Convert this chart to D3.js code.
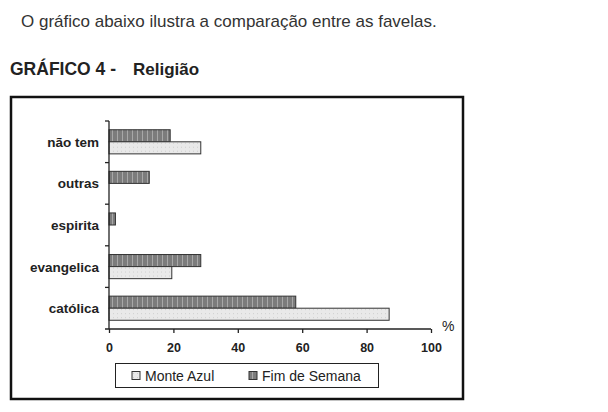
<!DOCTYPE html>
<html>
<head>
<meta charset="utf-8">
<script src="https://cdn.jsdelivr.net/npm/d3@7"></script>
<style>
body { margin: 0; background: #fff; }
text { font-family: "Liberation Sans", Arial, sans-serif; }
</style>
</head>
<body>
<div id="chart"></div>
<script>
// categories top to bottom
var categories = ["não tem", "outras", "espirita", "evangelica", "católica"];
var seriesNames = ["Monte Azul", "Fim de Semana"];
var monteAzul = [28.5, 0, 0, 19.5, 87];
var fimDeSemana = [19, 12.5, 2, 28.5, 58];
var ticks = [0, 20, 40, 60, 80, 100];

var w = 608, h = 412;
var svg = d3.select("#chart").append("svg").attr("width", w).attr("height", h);

// hatching patterns to mimic the scanned fills
var defs = svg.append("defs");
var pLight = defs.append("pattern").attr("id", "pLight").attr("patternUnits", "userSpaceOnUse")
	.attr("width", 4).attr("height", 4);
pLight.append("rect").attr("width", 4).attr("height", 4).attr("fill", "#e9e9e9");
pLight.append("rect").attr("x", 1).attr("y", 1).attr("width", 1).attr("height", 1).attr("fill", "#cfcfcf");
var pDark = defs.append("pattern").attr("id", "pDark").attr("patternUnits", "userSpaceOnUse")
	.attr("width", 5).attr("height", 4);
pDark.append("rect").attr("width", 5).attr("height", 4).attr("fill", "#7c7c7c");
pDark.append("rect").attr("x", 2).attr("y", 0).attr("width", 1).attr("height", 4).attr("fill", "#a8a8a8");
var fills = ["url(#pLight)", "url(#pDark)"];

// heading texts
svg.append("text").attr("x", 21).attr("y", 27).attr("font-size", "17px").attr("fill", "#333")
	.text("O gráfico abaixo ilustra a comparação entre as favelas.");
svg.append("text").attr("x", 10).attr("y", 75).attr("font-size", "17.5px").attr("font-weight", "bold")
	.attr("fill", "#222").text("GRÁFICO 4 -");
svg.append("text").attr("x", 133).attr("y", 75).attr("font-size", "17px").attr("font-weight", "bold")
	.attr("fill", "#222").text("Religião");

// outer frame
svg.append("rect").attr("x", 11).attr("y", 97).attr("width", 452).attr("height", 302)
	.attr("fill", "none").attr("stroke", "#111").attr("stroke-width", 2.5);

var x = d3.scaleLinear().domain([0, 100]).range([109, 431]);
var y = d3.scaleBand().domain(categories).range([121, 329]).paddingInner(0.42).paddingOuter(0.21);
var ySub = d3.scaleBand().domain(["Fim de Semana", "Monte Azul"]).range([0, y.bandwidth()]);

var rows = categories.map(function(c, i) {
	return { cat: c, vals: [
		{ name: "Fim de Semana", value: fimDeSemana[i], fill: fills[1] },
		{ name: "Monte Azul", value: monteAzul[i], fill: fills[0] }
	]};
});

var g = svg.append("g");
g.selectAll(".row").data(rows).enter().append("g")
	.attr("transform", function(d) { return "translate(0," + y(d.cat) + ")"; })
	.selectAll("rect").data(function(d) { return d.vals.filter(function(v) { return v.value > 0; }); })
	.enter().append("rect")
	.attr("x", x(0))
	.attr("y", function(d) { return ySub(d.name); })
	.attr("width", function(d) { return x(d.value) - x(0); })
	.attr("height", ySub.bandwidth())
	.attr("fill", function(d) { return d.fill; })
	.attr("stroke", "#333").attr("stroke-width", 1);

// y axis: line with ticks at category boundaries
var step = y.step();
var yLine = svg.append("g").attr("stroke", "#222").attr("stroke-width", 1.3);
yLine.append("line").attr("x1", x(0)).attr("x2", x(0)).attr("y1", 121).attr("y2", 329);
categories.forEach(function(c) {
	var yb = y(c) - y.paddingOuter() * step;
	yLine.append("line").attr("x1", x(0) - 4).attr("x2", x(0)).attr("y1", yb).attr("y2", yb);
});
svg.selectAll(".catLabel").data(categories).enter().append("text")
	.attr("x", 99).attr("y", function(d) { return y(d) + y.bandwidth() / 2 + 5; })
	.attr("text-anchor", "end").attr("font-size", "13.5px").attr("font-weight", "bold")
	.attr("fill", "#222").text(function(d) { return d; });

// x axis
var xAxis = d3.axisBottom(x).tickValues(ticks).tickSize(4).tickPadding(10).tickFormat(d3.format("d"));
var ax = svg.append("g").attr("transform", "translate(0,329)").call(xAxis);
ax.select(".domain").attr("d", "M" + (x(0) - 4) + ",0H" + x(100)).attr("stroke", "#222").attr("stroke-width", 1.3);
ax.selectAll(".tick line").attr("stroke", "#222").attr("stroke-width", 1.3);
ax.selectAll(".tick text").attr("font-size", "12.5px").attr("font-weight", "bold").attr("fill", "#222")
	.attr("font-family", "Liberation Sans, Arial, sans-serif");
svg.append("text").attr("x", 442).attr("y", 331).attr("font-size", "14px").attr("fill", "#222").text("%");

// legend
var lg = svg.append("g");
lg.append("rect").attr("x", 115.5).attr("y", 363.5).attr("width", 263).attr("height", 24)
	.attr("fill", "#fff").attr("stroke", "#222").attr("stroke-width", 1);
var legendX = [132, 249];
seriesNames.forEach(function(n, i) {
	lg.append("rect").attr("x", legendX[i]).attr("y", 371.5).attr("width", 8).attr("height", 8)
		.attr("fill", fills[i]).attr("stroke", "#333");
	lg.append("text").attr("x", legendX[i] + 13).attr("y", 380.5).attr("font-size", "14px")
		.attr("fill", "#222").text(n);
});
</script>
</body>
</html>
